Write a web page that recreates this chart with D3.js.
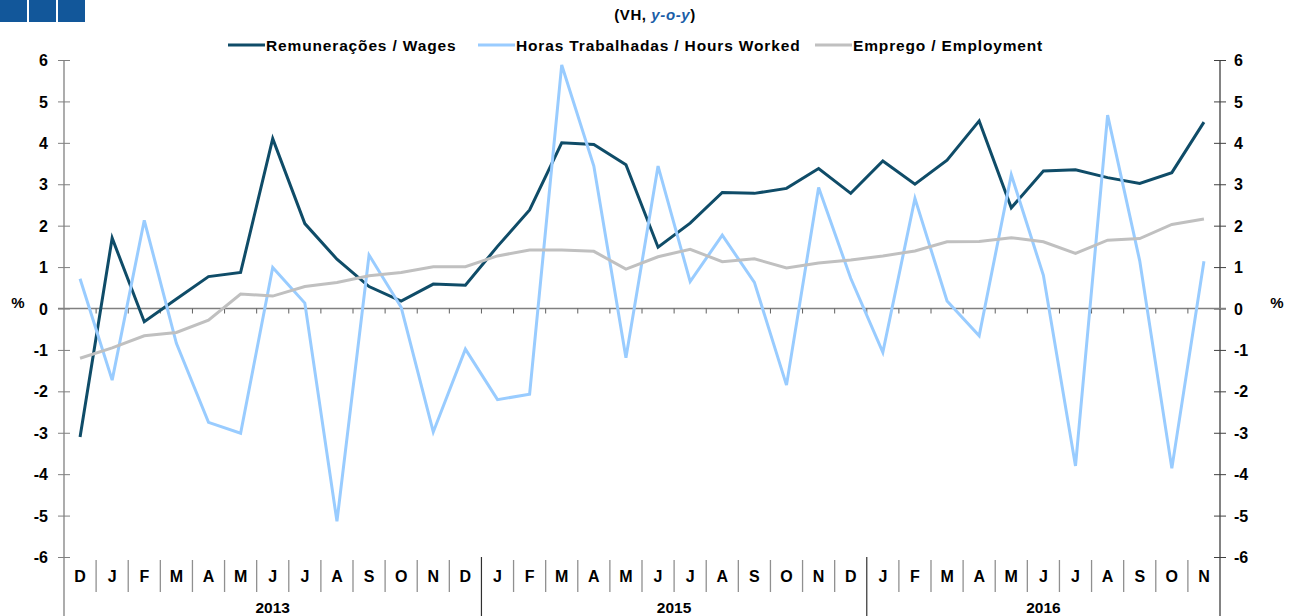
<!DOCTYPE html>
<html lang="pt">
<head>
  <meta charset="utf-8">
  <title>Remunerações, Horas Trabalhadas e Emprego</title>
  <script src="https://cdn.jsdelivr.net/npm/d3@7"></script>
  <style>
    body {
      margin: 0;
      background: #fff;
      font-family: "Liberation Sans", Arial, sans-serif;
    }
    text {
      font-weight: bold;
      fill: #000;
    }
    .series {
      fill: none;
      stroke-width: 3;
      stroke-linejoin: miter;
    }
  </style>
</head>
<body>
<script>
  // months from Dec 2012 to Nov 2016 (as labelled on the chart)
  var months = ["D", "J", "F", "M", "A", "M", "J", "J", "A", "S", "O", "N",
    "D", "J", "F", "M", "A", "M", "J", "J", "A", "S", "O", "N",
    "D", "J", "F", "M", "A", "M", "J", "J", "A", "S", "O", "N"];
  var yearLabels = ["2013", "2015", "2016"];
  var yearStarts = [0, 13, 25]; // index of first month in each group

  var wages = [-3.1, 1.7, -0.32, 0.23, 0.77, 0.87, 4.1, 2.05, 1.19, 0.53, 0.18, 0.59,
    0.56, 1.5, 2.38, 4.0, 3.96, 3.47, 1.48, 2.06, 2.8, 2.78, 2.9, 3.38,
    2.78, 3.56, 3.0, 3.58, 4.53, 2.43, 3.32, 3.35, 3.16, 3.02, 3.28, 4.5];
  var hours = [0.72, -1.73, 2.13, -0.84, -2.75, -3.01, 0.99, 0.13, -5.14, 1.29, 0.03, -2.98,
    -0.98, -2.2, -2.07, 5.88, 3.44, -1.19, 3.44, 0.65, 1.77, 0.63, -1.85, 2.92,
    0.73, -1.06, 2.66, 0.18, -0.66, 3.23, 0.8, -3.8, 4.67, 1.15, -3.86, 1.14];
  var employment = [-1.2, -0.95, -0.66, -0.58, -0.28, 0.35, 0.3, 0.53, 0.63, 0.79, 0.87, 1.01,
    1.01, 1.27, 1.41, 1.41, 1.38, 0.95, 1.25, 1.43, 1.13, 1.2, 0.98, 1.1,
    1.17, 1.27, 1.39, 1.61, 1.62, 1.71, 1.61, 1.33, 1.65, 1.69, 2.03, 2.16];

  var seriesNames = ["Remunerações / Wages", "Horas Trabalhadas / Hours Worked", "Emprego / Employment"];
  var seriesColors = ["#0f4c68", "#99ccff", "#c0c0c0"];
  var yTicks = [-6, -5, -4, -3, -2, -1, 0, 1, 2, 3, 4, 5, 6];

  var W = 1291, H = 616;
  var plotL = 64, plotR = 1220, plotT = 60, plotB = 557;

  var svg = d3.select("body").append("svg")
    .attr("width", W)
    .attr("height", H);

  var x = d3.scaleBand()
    .domain(d3.range(months.length))
    .range([plotL, plotR])
    .paddingInner(0)
    .paddingOuter(0);

  var y = d3.scaleLinear()
    .domain([-6, 6])
    .range([plotB, plotT]);

  // corner squares
  svg.selectAll("rect.corner")
    .data([0, 1, 2])
    .enter().append("rect")
    .attr("class", "corner")
    .attr("x", function(d) { return d * 29; })
    .attr("y", 0)
    .attr("width", 27)
    .attr("height", 22)
    .attr("fill", "#12579a");

  // subtitle
  var sub = svg.append("text")
    .attr("x", 655)
    .attr("y", 20)
    .attr("text-anchor", "middle")
    .style("font-size", "15px")
    .style("letter-spacing", "0.6px");
  sub.append("tspan").text("(VH, ");
  sub.append("tspan").text("y-o-y").style("font-style", "italic").style("fill", "#1a5ea8");
  sub.append("tspan").text(")");

  // legend
  var legendX = [228, 478, 815];
  var legend = svg.selectAll("g.legend")
    .data(seriesNames)
    .enter().append("g")
    .attr("class", "legend")
    .attr("transform", function(d, i) { return "translate(" + legendX[i] + ",45)"; });
  legend.append("line")
    .attr("x1", 0).attr("x2", 37)
    .attr("stroke", function(d, i) { return seriesColors[i]; })
    .attr("stroke-width", 3);
  legend.append("text")
    .attr("x", 38)
    .attr("y", 5.5)
    .style("font-size", "15.5px")
    .style("letter-spacing", "0.85px")
    .text(function(d) { return d; });

  var fmt = function(d) { return String(d); };

  // y axes
  var yAxisLeft = d3.axisLeft(y).tickValues(yTicks).tickSizeOuter(0).tickSize(6).tickPadding(10)
    .tickFormat(fmt);
  var gl = svg.append("g")
    .attr("transform", "translate(" + plotL + ",0)")
    .call(yAxisLeft);
  gl.select(".domain").remove();
  gl.selectAll(".tick line").attr("x1", 6).attr("stroke", "#808080");
  gl.selectAll(".tick text").style("font-size", "16px").style("font-family", "Liberation Sans, Arial").attr("dy", "0.35em");

  var yAxisRight = d3.axisRight(y).tickValues(yTicks).tickSizeOuter(0).tickSize(6).tickPadding(8)
    .tickFormat(fmt);
  var gr = svg.append("g")
    .attr("transform", "translate(" + plotR + ",0)")
    .call(yAxisRight);
  gr.select(".domain").remove();
  gr.selectAll(".tick line").attr("x1", -6).attr("stroke", "#404040");
  gr.selectAll(".tick text").style("font-size", "16px").style("font-family", "Liberation Sans, Arial").attr("dy", "0.35em");

  svg.append("line")
    .attr("x1", plotL).attr("x2", plotL)
    .attr("y1", plotT).attr("y2", H)
    .attr("stroke", "#808080").attr("stroke-width", 1.3);
  svg.append("line")
    .attr("x1", plotR).attr("x2", plotR)
    .attr("y1", plotT).attr("y2", H)
    .attr("stroke", "#404040").attr("stroke-width", 1.3);

  svg.append("text").attr("x", 18).attr("y", y(0) - 1).attr("text-anchor", "middle")
    .style("font-size", "15px").text("%");
  svg.append("text").attr("x", 1277).attr("y", y(0) - 1).attr("text-anchor", "middle")
    .style("font-size", "15px").text("%");

  // zero line with small ticks at month boundaries
  svg.append("line")
    .attr("x1", plotL - 6).attr("x2", plotR + 6)
    .attr("y1", y(0)).attr("y2", y(0))
    .attr("stroke", "#808080").attr("stroke-width", 1.3);
  svg.selectAll("line.zt")
    .data(d3.range(1, months.length))
    .enter().append("line")
    .attr("class", "zt")
    .attr("x1", function(d) { return x(d); })
    .attr("x2", function(d) { return x(d); })
    .attr("y1", y(0))
    .attr("y2", y(0) + 5)
    .attr("stroke", "#606060");

  // month labels
  var xAxis = d3.axisBottom(x).tickSize(0).tickPadding(14)
    .tickFormat(function(i) { return months[i]; });
  var gx = svg.append("g")
    .attr("transform", "translate(0," + plotB + ")")
    .call(xAxis);
  gx.select(".domain").remove();
  gx.selectAll(".tick text").style("font-size", "16px").style("font-family", "Liberation Sans, Arial");

  // month separators
  svg.selectAll("line.msep")
    .data(d3.range(1, months.length).filter(function(i) { return yearStarts.indexOf(i) < 0; }))
    .enter().append("line")
    .attr("class", "msep")
    .attr("x1", function(d) { return x(d); })
    .attr("x2", function(d) { return x(d); })
    .attr("y1", plotB + 3)
    .attr("y2", plotB + 35)
    .attr("stroke", "#909090").attr("stroke-width", 1.3);

  // year separators and labels
  svg.selectAll("line.ysep")
    .data(yearStarts.slice(1))
    .enter().append("line")
    .attr("class", "ysep")
    .attr("x1", function(d) { return x(d); })
    .attr("x2", function(d) { return x(d); })
    .attr("y1", plotB)
    .attr("y2", H)
    .attr("stroke", "#303030").attr("stroke-width", 1.2);

  svg.selectAll("text.year")
    .data(yearLabels)
    .enter().append("text")
    .attr("class", "year")
    .attr("x", function(d, i) {
      var a = x(yearStarts[i]);
      var b = i + 1 < yearStarts.length ? x(yearStarts[i + 1]) : plotR;
      return (a + b) / 2;
    })
    .attr("y", 613)
    .attr("text-anchor", "middle")
    .style("font-size", "15.5px")
    .text(function(d) { return d; });

  // series lines
  var line = d3.line()
    .x(function(d, i) { return x(i) + x.bandwidth() / 2; })
    .y(function(d) { return y(d); });

  [wages, hours, employment].forEach(function(s, k) {
    svg.append("path")
      .attr("class", "series")
      .attr("stroke", seriesColors[k])
      .attr("d", line(s));
  });
</script>
</body>
</html>
